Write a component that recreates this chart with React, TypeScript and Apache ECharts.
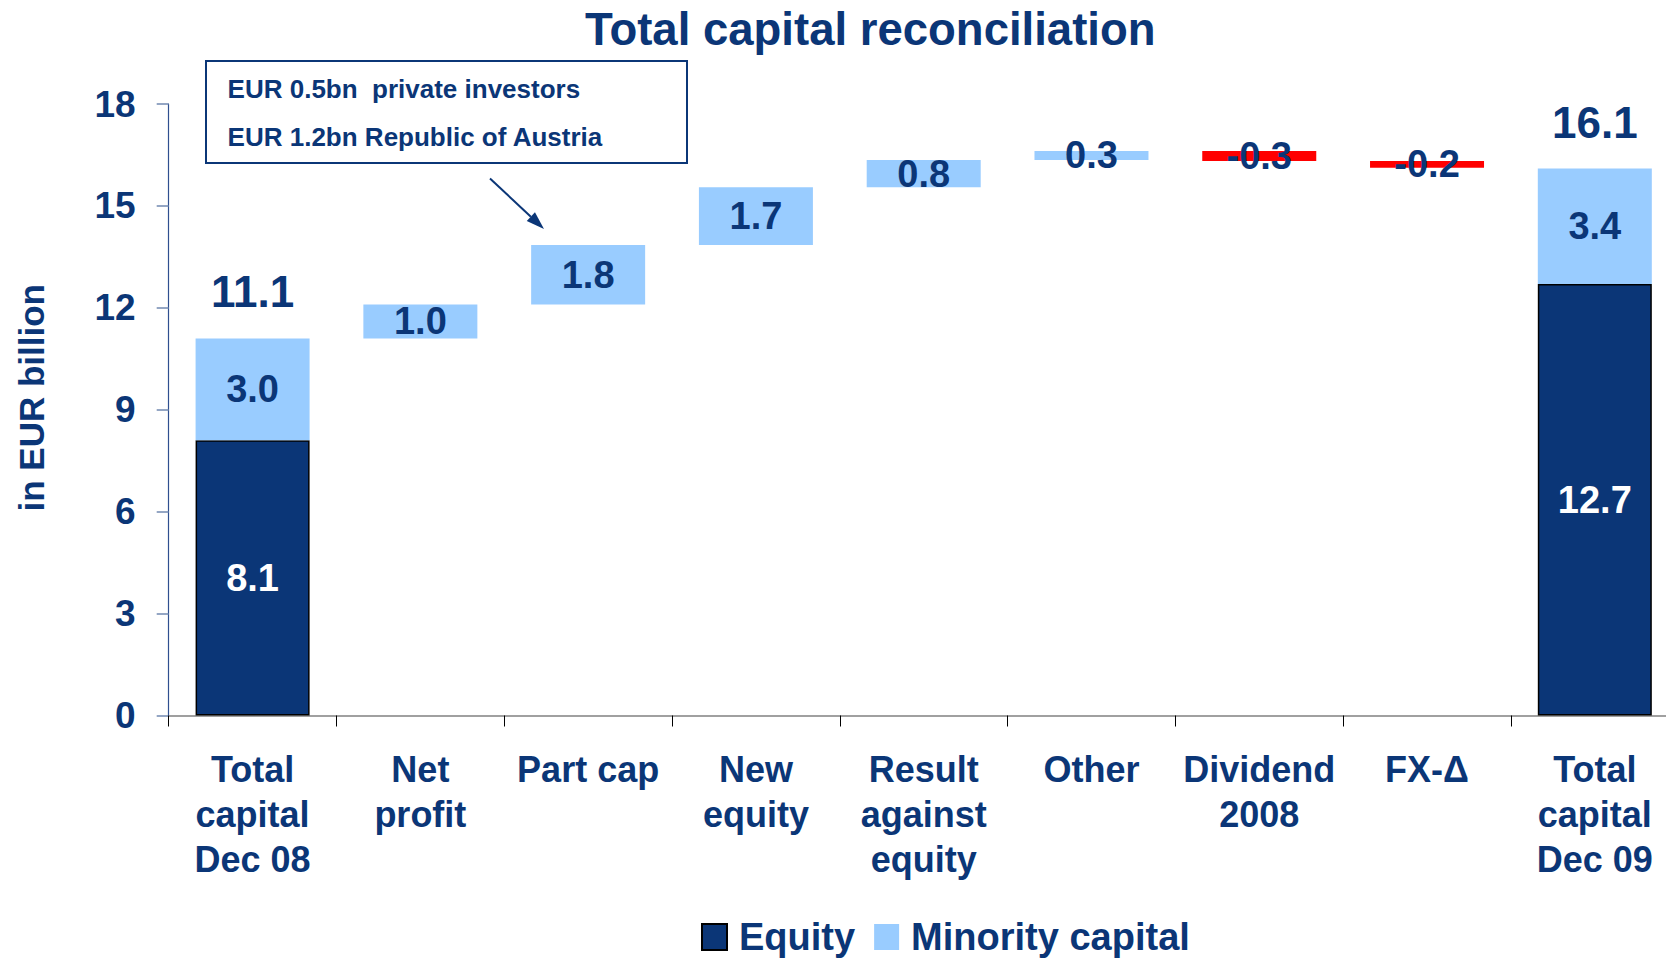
import React, { useEffect, useRef } from 'react';
import * as echarts from 'echarts';

// ---- data ----
const categories = [
  'Total\ncapital\nDec 08',
  'Net\nprofit',
  'Part cap',
  'New\nequity',
  'Result\nagainst\nequity',
  'Other',
  'Dividend\n2008',
  'FX-Δ',
  'Total\ncapital\nDec 09',
];
const startEquity = 8.1;
const startMinority = 3.0;
const changes = [1.0, 1.75, 1.7, 0.8, 0.27, -0.3, -0.2];
const endEquity = 12.7;
const endMinority = 3.4;
const yMin = 0;
const yMax = 18;
const yInterval = 3;
const annotationLines = ['EUR 0.5bn  private investors', 'EUR 1.2bn Republic of Austria'];
const titleText = 'Total capital reconciliation';
const yAxisTitle = 'in EUR billion';

const NAVY = '#0B3677';
const LIGHT = '#99CCFF';
const RED = '#FF0000';
const FONT = '"Liberation Sans", Arial, Helvetica, sans-serif';

export default function App() {
  const ref = useRef<HTMLDivElement>(null);

  useEffect(() => {
    if (!ref.current) return;
    const chart = echarts.init(ref.current, undefined, { renderer: 'svg' });

    const base: (number | string)[] = [0];
    const equity: (number | string)[] = [startEquity];
    const minority: (number | string)[] = [startMinority];
    const decrease: (number | string)[] = ['-'];
    const totals: (number | string)[] = [startEquity + startMinority];
    let run = startEquity + startMinority;
    changes.forEach((c) => {
      equity.push('-');
      totals.push('-');
      if (c >= 0) {
        base.push(run);
        minority.push(c);
        decrease.push('-');
        run += c;
      } else {
        run += c;
        base.push(run);
        minority.push('-');
        decrease.push(-c);
      }
    });
    base.push(0);
    equity.push(endEquity);
    minority.push(endMinority);
    decrease.push('-');
    totals.push(endEquity + endMinority);

    const labelBase = { fontFamily: FONT, fontWeight: 'bold' as const, fontSize: 38 };

    // arrow geometry (decorative)
    const ax1 = 490, ay1 = 178.5, tx = 544, ty = 229;
    const dx = tx - ax1, dy = ty - ay1;
    const len = Math.sqrt(dx * dx + dy * dy);
    const ux = dx / len, uy = dy / len;
    const bx = tx - 18 * ux, by = ty - 18 * uy;
    const nx = -uy, ny = ux;

    chart.setOption({
      animation: false,
      backgroundColor: '#ffffff',
      title: {
        text: titleText,
        left: 580,
        top: 1,
        textStyle: { fontFamily: FONT, fontWeight: 'bold', fontSize: 45.5, color: NAVY },
      },
      legend: {
        data: ['Equity', 'Minority capital'],
        left: 696,
        top: 913,
        itemWidth: 25,
        itemHeight: 26,
        itemGap: 19,
        icon: 'rect',
        textStyle: { fontFamily: FONT, fontWeight: 'bold', fontSize: 38, color: NAVY, padding: [0, 0, 0, 7] },
      },
      grid: {
        left: 168.7,
        width: 1510,
        top: 104,
        bottom: 244.5,
        containLabel: false,
        outerBoundsMode: 'none',
      },
      xAxis: {
        type: 'category',
        data: categories,
        axisLine: { lineStyle: { color: '#808080', width: 1.5 } },
        axisTick: { show: true, length: 11, lineStyle: { color: '#000000', width: 1 } },
        axisLabel: {
          interval: 0,
          margin: 31,
          fontFamily: FONT,
          fontWeight: 'bold',
          fontSize: 36,
          lineHeight: 45,
          color: NAVY,
        },
      },
      yAxis: {
        type: 'value',
        min: yMin,
        max: yMax,
        interval: yInterval,
        name: yAxisTitle,
        nameLocation: 'middle',
        nameRotate: 90,
        nameGap: 120,
        nameTextStyle: { fontFamily: FONT, fontWeight: 'bold', fontSize: 35, color: NAVY, padding: [0, 0, 0, 24] },
        axisLine: { show: true, lineStyle: { color: '#2F4F8F', width: 1.2 } },
        axisTick: { show: true, length: 12, lineStyle: { color: '#7088B0', width: 1.5 } },
        splitLine: { show: false },
        axisLabel: { margin: 33, fontFamily: FONT, fontWeight: 'bold', fontSize: 37, color: NAVY },
      },
      series: [
        {
          name: 'base',
          type: 'bar',
          stack: 'w',
          barWidth: 114,
          data: base,
          itemStyle: { color: 'rgba(0,0,0,0)' },
          emphasis: { disabled: true },
          silent: true,
        },
        {
          name: 'Equity',
          type: 'bar',
          stack: 'w',
          barWidth: 114,
          data: equity,
          itemStyle: { color: NAVY, borderColor: '#000000', borderWidth: 1.5 },
          label: {
            show: true,
            position: 'inside',
            ...labelBase,
            color: '#ffffff',
            formatter: (p: any) => Number(p.value).toFixed(1),
          },
        },
        {
          name: 'Minority capital',
          type: 'bar',
          stack: 'w',
          barWidth: 114,
          data: minority,
          itemStyle: { color: LIGHT },
          label: {
            show: true,
            position: 'inside',
            ...labelBase,
            color: NAVY,
            formatter: (p: any) => Number(p.value).toFixed(1),
          },
        },
        {
          name: 'Decrease',
          type: 'bar',
          stack: 'w',
          barWidth: 114,
          data: decrease,
          itemStyle: { color: RED },
          label: {
            show: true,
            position: 'inside',
            ...labelBase,
            color: NAVY,
            formatter: (p: any) => '-' + Number(p.value).toFixed(1),
          },
        },
        {
          name: 'Total',
          type: 'scatter',
          data: totals,
          symbolSize: 1,
          itemStyle: { color: 'rgba(0,0,0,0)', opacity: 1 },
          label: {
            show: true,
            position: 'top',
            distance: 24,
            fontFamily: FONT,
            fontWeight: 'bold',
            fontSize: 44,
            color: NAVY,
            opacity: 1,
            formatter: (p: any) => Number(p.value).toFixed(1),
          },
        },
      ],
      graphic: [
        {
          type: 'rect',
          shape: { x: 206, y: 61, width: 481, height: 102 },
          style: { fill: '#ffffff', stroke: NAVY, lineWidth: 2 },
          z: 10,
        },
        {
          type: 'text',
          x: 227.6,
          y: 89,
          style: {
            text: annotationLines[0],
            fill: NAVY,
            font: `bold 26px ${FONT}`,
            textAlign: 'left',
            textVerticalAlign: 'middle',
          },
          z: 11,
        },
        {
          type: 'text',
          x: 227.6,
          y: 137,
          style: {
            text: annotationLines[1],
            fill: NAVY,
            font: `bold 26px ${FONT}`,
            textAlign: 'left',
            textVerticalAlign: 'middle',
          },
          z: 11,
        },
        {
          type: 'line',
          shape: { x1: ax1, y1: ay1, x2: bx, y2: by },
          style: { stroke: NAVY, lineWidth: 2 },
          z: 11,
        },
        {
          type: 'polygon',
          shape: {
            points: [
              [tx, ty],
              [bx + 6 * nx, by + 6 * ny],
              [bx - 6 * nx, by - 6 * ny],
            ],
          },
          style: { fill: NAVY },
          z: 11,
        },
      ],
    });

    return () => chart.dispose();
  }, []);

  return (
    <div
      ref={ref}
      style={{ position: 'absolute', left: 0, top: 0, width: 1666, height: 960, background: '#fff' }}
    />
  );
}
